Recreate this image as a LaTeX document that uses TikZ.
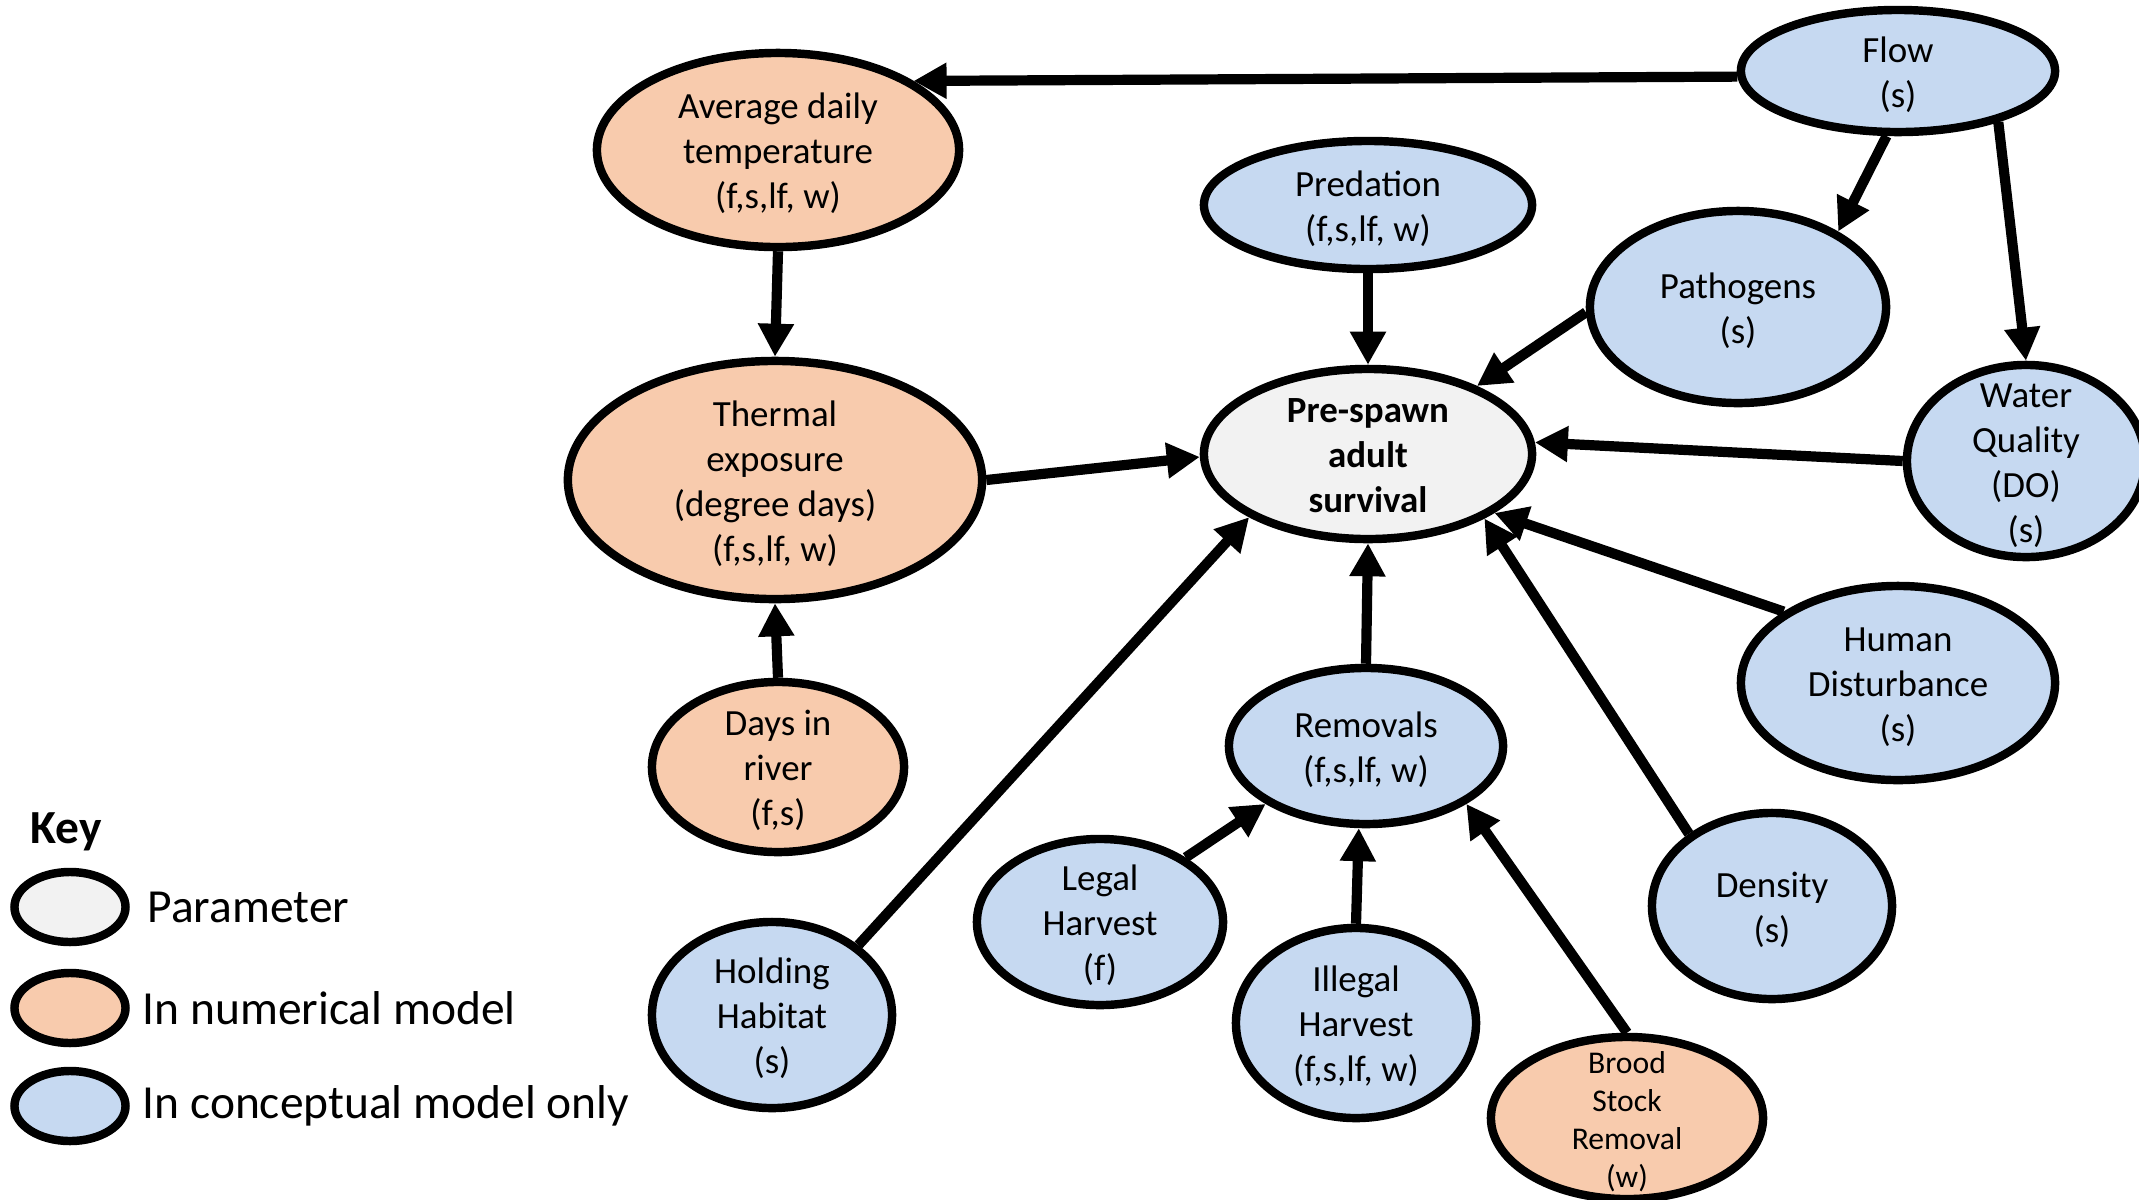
\documentclass[tikz,border=0pt]{standalone}
\usepackage{fontspec}
\setmainfont{Carlito}
\usetikzlibrary{arrows.meta,shapes.geometric}
\definecolor{grayfill}{HTML}{F2F2F2}
\definecolor{orngfill}{HTML}{F8CBAD}
\definecolor{blufill}{HTML}{C6D9F1}
\newcommand{\ctext}[1]{\raisebox{-1.4pt}[\height][\depth]{\begin{tabular}{@{}c@{}}#1\end{tabular}}}
\begin{document}
\begin{tikzpicture}[x=0.01cm,y=-0.01cm,
  bub/.style={ellipse,draw=black,line width=2.4pt,inner sep=-0.3cm,
    font=\fontsize{10.5pt}{12.8pt}\selectfont},
  gr/.style={bub,fill=grayfill},
  orng/.style={bub,fill=orngfill},
  blu/.style={bub,fill=blufill},
  keyel/.style={ellipse,draw=black,line width=2.4pt,inner sep=0pt,minimum width=1.11cm,minimum height=0.70cm},
  keytxt/.style={anchor=west,inner sep=0pt,font=\fontsize{13.5pt}{16pt}\selectfont},
  arr/.style={line width=2.9pt,-{Triangle[length=0.33cm,width=0.34cm]}}]
\useasboundingbox (0,0) rectangle (2139,1199);

% nodes
\node[orng,minimum width=3.62cm,minimum height=1.94cm] (avg) at (778,150) {\ctext{Average daily\\temperature\\(f,s,lf, w)}};
\node[blu,minimum width=3.14cm,minimum height=1.22cm] (flow) at (1898,71) {\ctext{Flow\\(s)}};
\node[blu,minimum width=3.28cm,minimum height=1.28cm] (pred) at (1368,205) {\ctext{Predation\\(f,s,lf, w)}};
\node[blu,minimum width=2.96cm,minimum height=1.92cm] (path) at (1738,307) {\ctext{Pathogens\\(s)}};
\node[gr,minimum width=3.28cm,minimum height=1.70cm,font=\fontsize{10.5pt}{12.8pt}\selectfont\bfseries] (pre) at (1368,454) {\ctext{Pre-spawn\\adult\\survival}};
\node[orng,minimum width=4.14cm,minimum height=2.38cm] (therm) at (775,480) {\ctext{Thermal\\exposure\\(degree days)\\(f,s,lf, w)}};
\node[blu,minimum width=2.38cm,minimum height=1.92cm] (wq) at (2026,461) {\ctext{Water\\Quality\\(DO)\\(s)}};
\node[blu,minimum width=3.14cm,minimum height=1.94cm] (hd) at (1898,683) {\ctext{Human\\Disturbance\\(s)}};
\node[orng,minimum width=2.52cm,minimum height=1.70cm] (days) at (778,767) {\ctext{Days in\\river\\(f,s)}};
\node[blu,minimum width=2.74cm,minimum height=1.56cm] (rem) at (1366,746) {\ctext{Removals\\(f,s,lf, w)}};
\node[blu,minimum width=2.46cm,minimum height=1.66cm] (legal) at (1100,922) {\ctext{Legal\\Harvest\\(f)}};
\node[blu,minimum width=2.40cm,minimum height=1.86cm] (dens) at (1772,906) {\ctext{Density\\(s)}};
\node[blu,minimum width=2.40cm,minimum height=1.86cm] (hold) at (772,1015) {\ctext{Holding\\Habitat\\(s)}};
\node[blu,minimum width=2.40cm,minimum height=1.90cm] (ill) at (1356,1023) {\ctext{Illegal\\Harvest\\(f,s,lf, w)}};
\node[orng,minimum width=2.72cm,minimum height=1.62cm,font=\fontsize{9pt}{10.8pt}\selectfont] (brood) at (1627,1118) {\ctext{Brood\\Stock\\Removal\\(w)}};

% connectors
\draw[arr] (flow.182) -- (avg.27);
\draw[arr] (flow.-100) -- (path.37);
\draw[arr] (flow.-27) -- (wq.north);
\draw[arr] (avg.south) -- (therm.north);
\draw[arr] (pred.south) -- (pre.north);
\draw[arr] (path.182) -- (pre.32);
\draw[arr] (wq.west) -- (pre.4);
\draw[arr] (therm.east) -- (pre.181);
\draw[arr] (days.north) -- (therm.south);
\draw[arr] (hd.148) -- (pre.-25);
\draw[arr] (dens.139) -- (pre.-29);
\draw[arr] (hold.39) -- (pre.208);
\draw[arr] (rem.north) -- (pre.south);
\draw[arr] (legal.37) -- (rem.210);
\draw[arr] (ill.north) -- (rem.265);
\draw[arr] (brood.north) -- (rem.-30);

% key
\node[anchor=base west,inner sep=0pt,font=\fontsize{13.5pt}{16pt}\selectfont\bfseries] (key) at (30,843) {Key};
\node[keyel,fill=grayfill] (k1) at (70,907) {};
\node[keyel,fill=orngfill] (k2) at (70,1008) {};
\node[keyel,fill=blufill] (k3) at (70,1106) {};
\node[keytxt] (t1) at (147,907) {Parameter};
\node[keytxt] (t2) at (142,1008) {In numerical model};
\node[keytxt] (t3) at (142,1106) {In conceptual model only};
\end{tikzpicture}
\end{document}
